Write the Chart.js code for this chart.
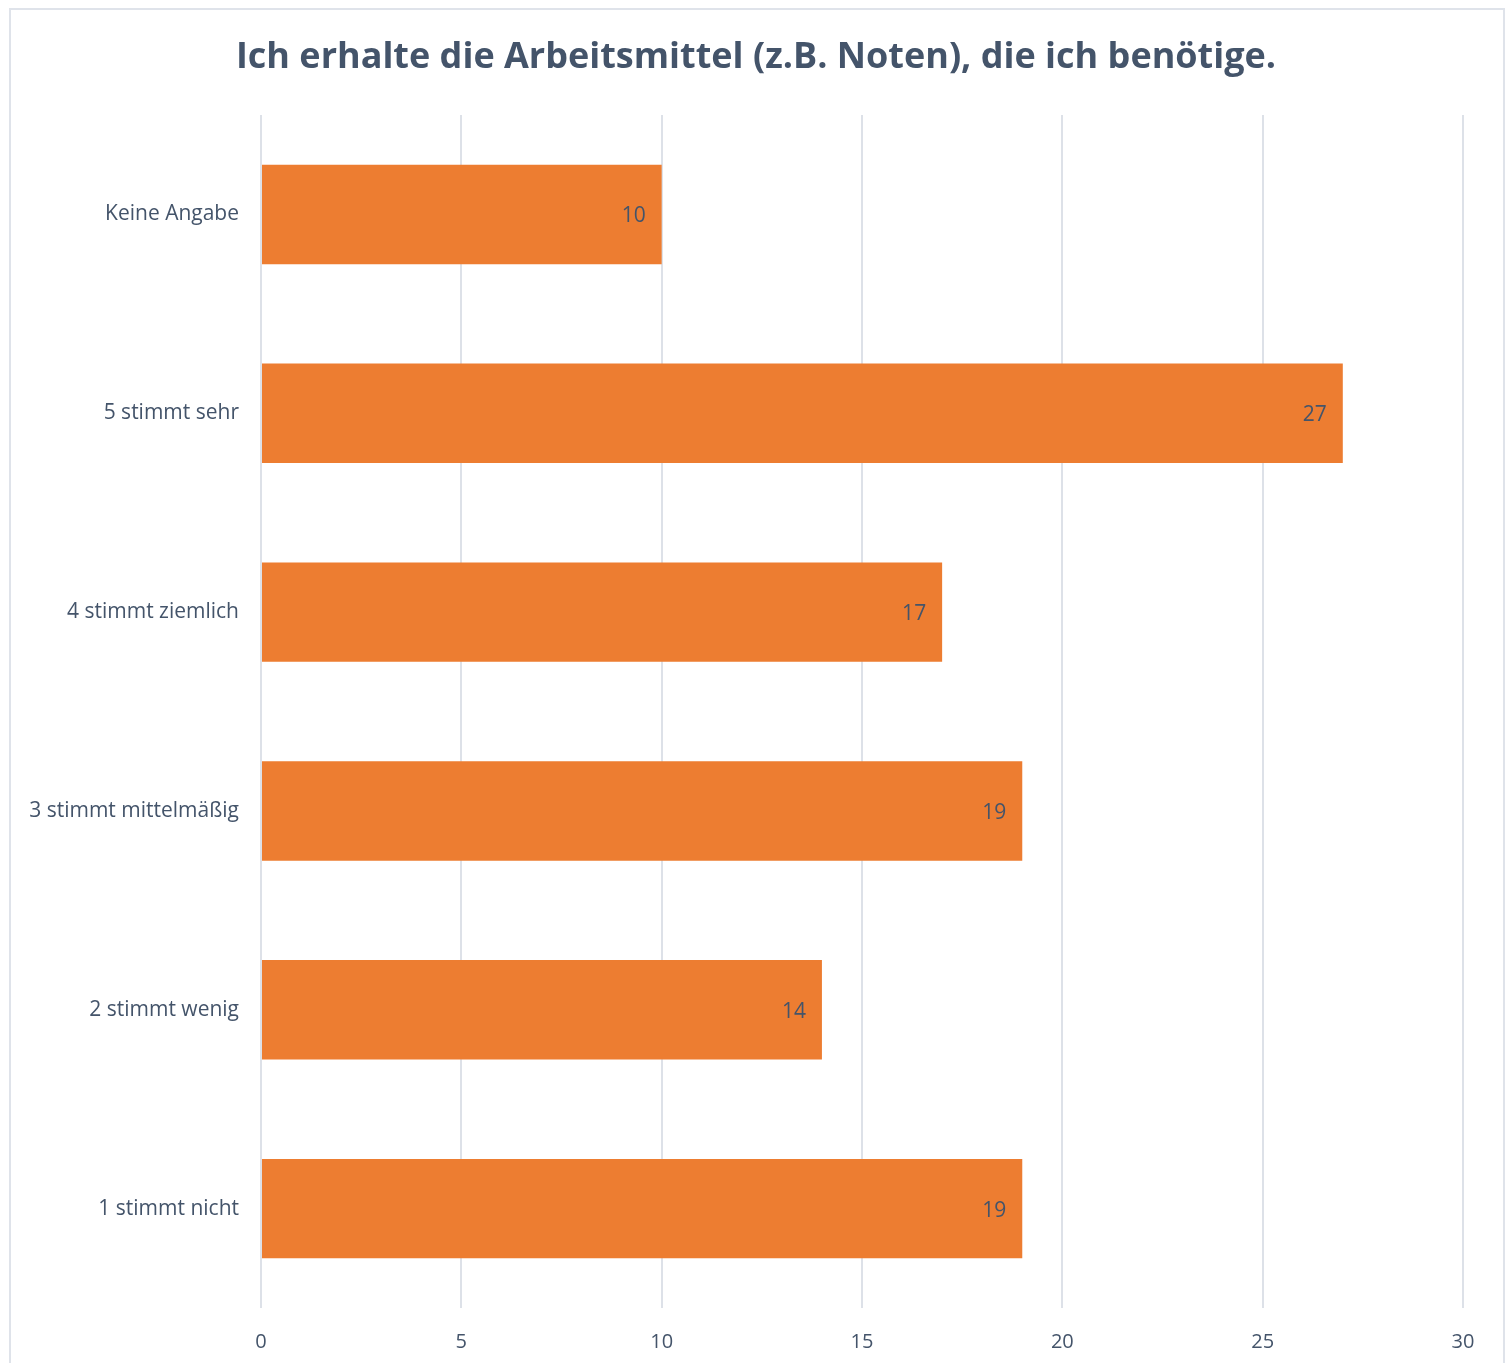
<!DOCTYPE html>
<html>
<head>
<meta charset="utf-8">
<script src="https://cdn.jsdelivr.net/npm/chart.js@4/dist/chart.umd.min.js"></script>
<style>
  html, body { margin: 0; padding: 0; background: #ffffff; }
  #wrap { width: 1510px; height: 1363px; position: relative; }
</style>
</head>
<body>
<div id="wrap"><canvas id="c" width="1510" height="1363"></canvas></div>
<script>
const categories = ["Keine Angabe", "5 stimmt sehr", "4 stimmt ziemlich", "3 stimmt mittelmäßig", "2 stimmt wenig", "1 stimmt nicht"];
const values = [10, 27, 17, 19, 14, 19];
const titleText = "Ich erhalte die Arbeitsmittel (z.B. Noten), die ich benötige.";
const xMin = 0, xMax = 30, xStep = 5;

const textColor = "#44546A";
const fontFamily = "'Open Sans', 'Liberation Sans', sans-serif";

const frame = {
  id: "frame",
  beforeDraw(chart) {
    const ctx = chart.ctx;
    ctx.save();
    ctx.fillStyle = "#ffffff";
    ctx.fillRect(0, 0, chart.width, chart.height);
    ctx.strokeStyle = "#DFE3EA";
    ctx.lineWidth = 2;
    ctx.strokeRect(10, 9, 1494, 1400);
    ctx.font = "bold 36px " + fontFamily;
    ctx.fillStyle = textColor;
    ctx.textAlign = "center";
    ctx.textBaseline = "middle";
    ctx.fillText(titleText, 756, 58);
    ctx.restore();
  }
};

const valueLabels = {
  id: "valueLabels",
  afterDatasetsDraw(chart) {
    const ctx = chart.ctx;
    const meta = chart.getDatasetMeta(0);
    ctx.save();
    ctx.font = "21px " + fontFamily;
    ctx.fillStyle = textColor;
    ctx.textAlign = "right";
    ctx.textBaseline = "middle";
    meta.data.forEach((bar, i) => {
      ctx.fillText(String(chart.data.datasets[0].data[i]), bar.x - 16, bar.y + 2);
    });
    ctx.restore();
  }
};

new Chart(document.getElementById("c"), {
  type: "bar",
  data: {
    labels: categories,
    datasets: [{
      data: values,
      backgroundColor: "#ED7D31",
      borderWidth: 0,
      categoryPercentage: 1.0,
      barPercentage: 0.5
    }]
  },
  options: {
    indexAxis: "y",
    responsive: false,
    animation: false,
    devicePixelRatio: 1,
    layout: { padding: { top: 115, right: 47, bottom: 0, left: 0 } },
    plugins: {
      legend: { display: false },
      tooltip: { enabled: false },
      title: { display: false }
    },
    scales: {
      x: {
        min: xMin, max: xMax,
        ticks: { stepSize: xStep, color: textColor, font: { family: fontFamily, size: 20 }, padding: 22 },
        grid: { color: "#DDE1E8", lineWidth: 2, drawTicks: false },
        border: { display: false },
        afterFit(scale) { scale.height = 55; }
      },
      y: {
        ticks: { color: textColor, font: { family: fontFamily, size: 21 }, padding: 22 },
        grid: { display: false, drawTicks: false },
        border: { display: false },
        afterFit(scale) { scale.width = 261; }
      }
    }
  },
  plugins: [frame, valueLabels]
});
</script>
</body>
</html>
